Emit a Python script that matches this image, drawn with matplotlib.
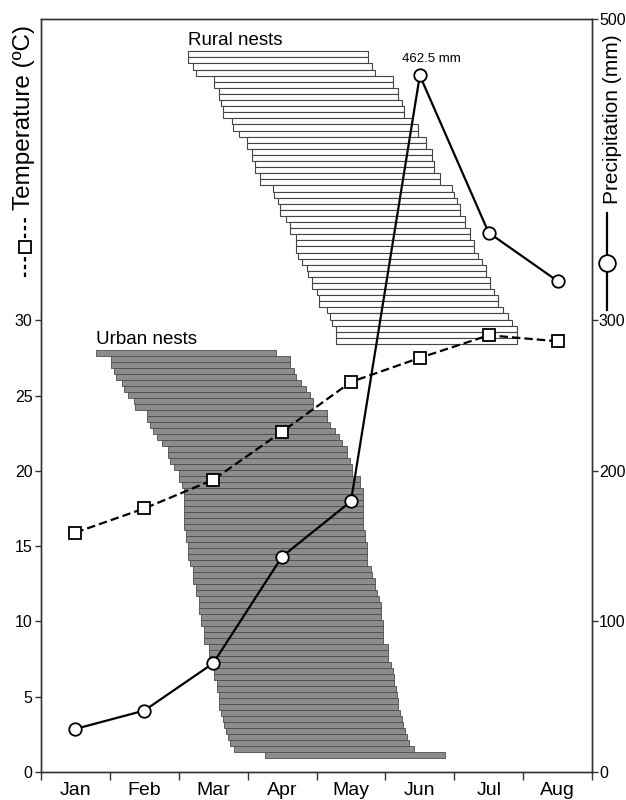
import numpy as np
import matplotlib
matplotlib.use("Agg")
import matplotlib.pyplot as plt
from matplotlib.lines import Line2D

plt.rcParams['font.family'] = ['Liberation Sans', 'DejaVu Sans']

# monthly climate
months = ['Jan', 'Feb', 'Mar', 'Apr', 'May', 'Jun', 'Jul', 'Aug']
temperature = [15.9, 17.5, 19.4, 22.6, 25.9, 27.5, 29.0, 28.6]
precipitation = [28.6, 40.8, 72.2, 143.0, 179.7, 462.5, 358.1, 326.0]

# nesting periods, in months from 1 Jan (0 = 1 Jan, 1 = 1 Feb, ...)
urban_start = [0.80, 1.02, 1.02, 1.06, 1.09, 1.17, 1.21, 1.26, 1.35, 1.36,
               1.54, 1.54, 1.58, 1.63, 1.69, 1.76, 1.84, 1.84, 1.88, 1.93,
               2.01, 2.01, 2.05, 2.08, 2.08, 2.08, 2.08, 2.08, 2.08, 2.08,
               2.11, 2.11, 2.14, 2.14, 2.14, 2.17, 2.20, 2.20, 2.20, 2.25,
               2.25, 2.30, 2.30, 2.30, 2.33, 2.33, 2.37, 2.37, 2.37, 2.44,
               2.44, 2.44, 2.44, 2.51, 2.51, 2.55, 2.55, 2.59, 2.59, 2.59,
               2.61, 2.64, 2.66, 2.69, 2.72, 2.75, 2.80, 3.25]
urban_end = [3.41, 3.62, 3.62, 3.67, 3.70, 3.77, 3.85, 3.90, 3.95, 3.95,
             4.15, 4.15, 4.20, 4.27, 4.32, 4.37, 4.44, 4.44, 4.49, 4.52,
             4.52, 4.63, 4.63, 4.67, 4.67, 4.67, 4.67, 4.67, 4.67, 4.67,
             4.70, 4.70, 4.74, 4.74, 4.74, 4.74, 4.79, 4.81, 4.85, 4.85,
             4.88, 4.91, 4.93, 4.93, 4.93, 4.97, 4.97, 4.97, 4.97, 5.04,
             5.04, 5.04, 5.08, 5.11, 5.13, 5.13, 5.15, 5.17, 5.19, 5.19,
             5.21, 5.24, 5.26, 5.29, 5.32, 5.35, 5.42, 5.87]
rural_start = [2.13, 2.13, 2.21, 2.25, 2.51, 2.51, 2.58, 2.58, 2.61, 2.64,
               2.64, 2.77, 2.79, 2.88, 2.99, 2.99, 3.06, 3.06, 3.11, 3.11,
               3.18, 3.18, 3.37, 3.38, 3.44, 3.47, 3.47, 3.56, 3.62, 3.62,
               3.70, 3.70, 3.70, 3.73, 3.79, 3.86, 3.88, 3.94, 3.94, 4.01,
               4.04, 4.04, 4.15, 4.20, 4.23, 4.28, 4.28, 4.28]
rural_end = [4.75, 4.75, 4.81, 4.85, 5.11, 5.11, 5.18, 5.18, 5.24, 5.27,
             5.27, 5.39, 5.47, 5.47, 5.59, 5.59, 5.68, 5.68, 5.71, 5.71,
             5.79, 5.79, 5.97, 6.00, 6.04, 6.08, 6.08, 6.16, 6.16, 6.23,
             6.23, 6.29, 6.29, 6.35, 6.40, 6.46, 6.46, 6.52, 6.52, 6.58,
             6.64, 6.64, 6.71, 6.78, 6.84, 6.91, 6.91, 6.91]

# layout of the two bar stacks (in temperature-axis units)
urban_top, urban_step = 28.0, 0.398
rural_top, rural_step = 47.86, 0.405

spine_col = '#333333'

fig = plt.figure(figsize=(6.26, 8.0), dpi=100)
ax = fig.add_axes([0.0655, 0.035, 0.8802, 0.94125])
ax2 = ax.twinx()

x = np.arange(len(months)) + 0.5

# urban nests (grey)
us = np.array(urban_start)
ue = np.array(urban_end)
uy = urban_top - (np.arange(len(us)) + 0.5) * urban_step
ax.barh(uy, ue - us, left=us, height=urban_step, color='#8c8c8c',
        edgecolor='#4d4d4d', linewidth=0.6, zorder=1)

# rural nests (white)
rs = np.array(rural_start)
re_ = np.array(rural_end)
ry = rural_top - (np.arange(len(rs)) + 0.5) * rural_step
ax.barh(ry, re_ - rs, left=rs, height=rural_step, color='white',
        edgecolor='#444444', linewidth=0.8, zorder=1)

ax.text(urban_start[0], 28.42, 'Urban nests', fontsize=13.5, va='baseline', ha='left')
ax.text(rural_start[0], 48.27, 'Rural nests', fontsize=13.5, va='baseline', ha='left')

# temperature
ax.plot(x, temperature, color='black', lw=1.6, ls=(0, (3.8, 1.8)),
        marker='s', ms=9, mfc='white', mec='black', mew=1.3, zorder=3)

# precipitation
ax2.plot(x, precipitation, color='black', lw=1.6, ls='-',
         marker='o', ms=9, mfc='white', mec='black', mew=1.3, zorder=3)
imax = int(np.argmax(precipitation))
ax2.annotate('%.1f mm' % precipitation[imax], (x[imax], precipitation[imax]),
             xytext=(8, 9.5), textcoords='offset points', ha='center',
             va='baseline', fontsize=9.5)

ax.set_xlim(0, 8)
ax.set_ylim(0, 50)
ax2.set_ylim(0, 500)

ax.set_xticks(np.arange(0, 9))
ax.set_xticklabels([])
ax.set_xticks(x, minor=True)
ax.set_xticklabels(months, minor=True, fontsize=14)
ax.tick_params(axis='x', which='major', direction='out', length=6, width=1, color=spine_col)
ax.tick_params(axis='x', which='minor', length=0, pad=7)

ax.set_yticks([0, 5, 10, 15, 20, 25, 30])
ax.tick_params(axis='y', direction='out', length=4, width=1, pad=2,
               labelsize=11.5, color=spine_col)
ax2.set_yticks([0, 100, 200, 300, 500])
ax2.tick_params(axis='y', direction='out', length=4, width=1, pad=1,
                labelsize=11.5, color=spine_col)

for a in (ax, ax2):
    for s in a.spines.values():
        s.set_color(spine_col)
        s.set_linewidth(1.0)

# axis labels with line keys
fig.text(0.0383, 0.8525, 'Temperature (\u00baC)', rotation=90, ha='center',
         va='center', fontsize=17.5)
fig.add_artist(Line2D([0.040, 0.040], [0.654, 0.729], transform=fig.transFigure,
                      color='black', lw=1.6, ls=(0, (2.0, 1.5))))
fig.add_artist(Line2D([0.040], [0.691], transform=fig.transFigure, marker='s',
                      ms=9, mfc='white', mec='black', mew=1.3, ls='none'))

fig.text(0.978, 0.851, 'Precipitation (mm)', rotation=90, ha='center',
         va='center', fontsize=15)
fig.add_artist(Line2D([0.970, 0.970], [0.6125, 0.734], transform=fig.transFigure,
                      color='black', lw=1.6))
fig.add_artist(Line2D([0.970], [0.671], transform=fig.transFigure, marker='o',
                      ms=12, mfc='white', mec='black', mew=1.3, ls='none'))

fig.savefig('out.png', dpi=100)
